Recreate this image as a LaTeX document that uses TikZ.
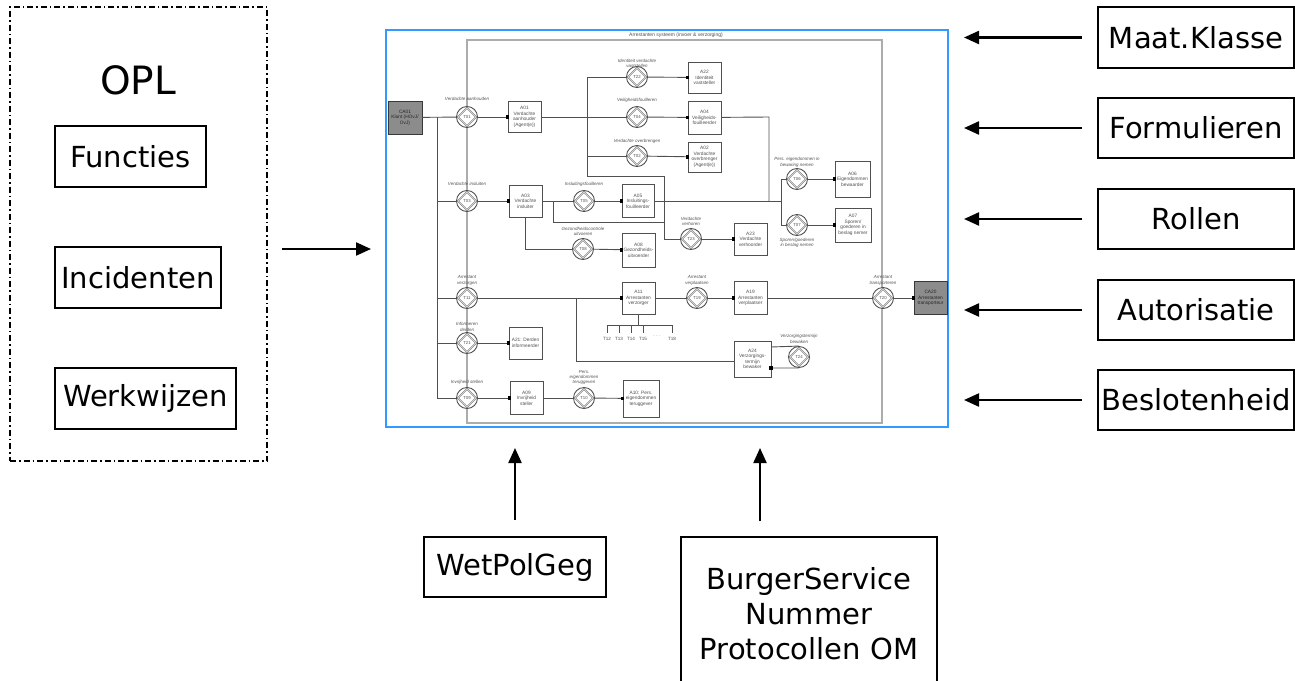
\documentclass[tikz,border=0pt]{standalone}
\usepackage{fontspec}
\setmainfont{DejaVu Sans}
\newfontfamily\scrfont{Liberation Sans}
\usetikzlibrary{arrows.meta,calc}
\definecolor{scrblue}{RGB}{51,153,255}
\definecolor{lnc}{RGB}{80,80,80}
\definecolor{frm}{RGB}{172,172,172}
\definecolor{actfill}{RGB}{140,140,140}
\tikzset{
  sz/.style 2 args={minimum width=#1pt, minimum height=#2pt},
  obox/.style={draw=black, line width=1.7pt, font=\fontsize{29}{35}\selectfont, inner sep=0pt, align=center},
  oarrow/.style={line width=2.2pt, -{Triangle[length=15pt,width=13pt]}},
  scrtxt/.style={font=\scrfont\fontsize{4.8}{5.5}\selectfont, text=lnc},
  lbl/.style={font=\scrfont\itshape\fontsize{4.5}{5.4}\selectfont, text=lnc, align=center, inner sep=0pt},
  actor/.style={draw=lnc, line width=0.8pt, fill=white, inner sep=0pt, align=center, scrtxt},
  ca/.style={actor, fill=actfill, draw=lnc!70!black, text=black!85},
  tr/.style={circle, draw=lnc, line width=0.9pt, fill=white, minimum size=21pt, inner sep=0pt,
    font=\scrfont\fontsize{4.3}{4.8}\selectfont, text=lnc,
    path picture={\draw[lnc, line width=0.45pt, double=white, double distance=0.5pt]
      ([yshift=-1.3pt]path picture bounding box.north) -- ([xshift=-1.3pt]path picture bounding box.east)
      -- ([yshift=1.3pt]path picture bounding box.south) -- ([xshift=1.3pt]path picture bounding box.west) -- cycle;}},
  conn/.style={draw=lnc, line width=0.9pt},
  dot/.style={fill=black, minimum size=3.5pt, inner sep=0pt},
  tick/.style={font=\scrfont\fontsize{4.6}{5}\selectfont, text=lnc, inner sep=0pt},
}
\begin{document}
\begin{tikzpicture}[x=1pt,y=-1pt]
\useasboundingbox (0,0) rectangle (1295,680);
\clip (0,0) rectangle (1295,680);
\fill[white] (0,0) rectangle (1295,680);

% ---------- left OPL group ----------
\node[draw=black, line width=1.5pt, dash pattern=on 6pt off 3pt on 1.5pt off 3pt, sz={257}{454}, inner sep=0pt] (oplbox) at (138.5,234) {};
\node[font=\fontsize{39}{45}\selectfont, inner sep=0pt] (opl) at (138,80) {OPL};
\node[obox, sz={151}{61}] (fun) at (130.5,156.5) {Functies};
\node[obox, sz={166}{61}] (inc) at (138,277.5) {Incidenten};
\node[obox, sz={181}{61}] (wkw) at (145.5,398.5) {Werkwijzen};

% ---------- central screenshot ----------
\node[draw=scrblue, line width=2pt, fill=white, sz={562}{397}, inner sep=0pt] (screen) at (667,228.5) {};
\node[draw=frm, line width=2pt, sz={415}{383}, inner sep=0pt] (frame) at (674.5,231.5) {};
\node[font=\scrfont\fontsize{5}{6}\selectfont, text=lnc, inner sep=0pt] (title) at (676,35.5) {Arrestanten systeem (invoer \& verzorging)};

% coordinates for junctions
\coordinate (bT) at (437,117);
\coordinate (bB) at (437,398);
\coordinate (b3) at (437,201);
\coordinate (b11) at (437,298);
\coordinate (b21) at (437,343);
\coordinate (j1) at (587,117);
\coordinate (j1t) at (587,77);
\coordinate (j1m) at (587,156);
\coordinate (j1b) at (587,176);
\coordinate (j2) at (664,176);
\coordinate (j2b) at (664,239);
\coordinate (j3) at (553,201);
\coordinate (j3b) at (553,222);
\coordinate (j3e) at (664,222);
\coordinate (j4) at (769,117);
\coordinate (j4b) at (769,201);
\coordinate (j5) at (781,201);
\coordinate (j5t) at (781,179);
\coordinate (j5b) at (781,225);
\coordinate (j6) at (525.5,249);
\coordinate (j7) at (576,298);
\coordinate (j7b) at (576,361);
\coordinate (c1) at (771,347);
\coordinate (c2) at (771,368);
\coordinate (k0) at (638.5,325);
\coordinate (kL) at (607,325);
\coordinate (kR) at (672,325);

% actors
\node[ca, sz={34}{33}] (CA01) at (405,117.5) {CA01\\Klant (HOvJ/\\OvJ)};
\node[actor, sz={33}{31}] (A01) at (524.5,117) {A01\\Verdachte\\aanhouder\\(Agent(e))};
\node[actor, sz={33}{31}] (A22) at (704.5,77.5) {A22\\Identiteit\\vaststeller};
\node[actor, sz={33}{33}] (A04) at (704.5,117.5) {A04\\Veiligheids-\\fouilleerder};
\node[actor, sz={33}{30}] (A02) at (704.5,157) {A02\\Verdachte\\overbrenger\\(Agent(e))};
\node[actor, sz={35}{36}] (A06) at (852.5,179) {A06\\Eigendommen\\bewaarder};
\node[actor, sz={36}{34}] (A07) at (853,225) {A07\\Sporen/\\goederen in\\beslag nemer};
\node[actor, sz={33}{32}] (A03) at (525.5,201) {A03\\Verdachte\\insluiter};
\node[actor, sz={32}{33}] (A05) at (638,201) {A05\\Insluitings-\\fouilleerder};
\node[actor, sz={33}{34}] (A08) at (638.5,250) {A08\\Gezondheids-\\uitvoerder};
\node[actor, sz={33}{32}] (A23) at (750.5,239) {A23\\Verdachte\\verhoorder};
\node[actor, sz={33}{32}] (A11) at (638.5,298) {A11\\Arrestanten\\verzorger};
\node[actor, sz={33}{33}] (A19) at (750.5,298) {A19\\Arrestanten\\verplaatser};
\node[ca, sz={33}{33}] (CA20) at (930.5,298) {CA20\\Arrestanten\\transporteur};
\node[actor, sz={37}{36}] (A24) at (752.5,359) {A24\\Verzorgings-\\termijn\\bewaker};
\node[actor, sz={33}{32}] (A21) at (525.5,343) {A21: Derden\\informeerder};
\node[actor, sz={33}{33}] (A09) at (526.5,398) {A09\\Invrijheid\\steller};
\node[actor, sz={36}{37}] (A10) at (641,398.5) {A10: Pers.\\eigendommen\\teruggever};

% transactions
\node[tr] (T01) at (467,117) {T01};
\node[tr] (T22) at (637,77) {T22};
\node[tr] (T04) at (637,117) {T04};
\node[tr] (T02) at (637,156) {T02};
\node[tr] (T06) at (797,179) {T06};
\node[tr] (T07) at (797,225) {T07};
\node[tr] (T03) at (467,201) {T03};
\node[tr] (T05) at (584,201) {T05};
\node[tr] (T23) at (691,239) {T23};
\node[tr] (T08) at (583,249) {T08};
\node[tr] (T11) at (467,298) {T11};
\node[tr] (T19) at (697,298) {T19};
\node[tr] (T20) at (883,298) {T20};
\node[tr] (T24) at (799,357) {T24};
\node[tr] (T21) at (467,343) {T21};
\node[tr] (T09) at (467,398) {T09};
\node[tr] (T10) at (584,398) {T10};

% connectors
\draw[conn] (CA01) -- (T01);
\draw[conn] (T01) -- (A01);
\draw[conn] (bT) -- (bB);
\draw[conn] (b3) -- (T03);
\draw[conn] (b11) -- (T11);
\draw[conn] (b21) -- (T21);
\draw[conn] (bB) -- (T09);
\draw[conn] (T03) -- (A03);
\draw[conn] (T11) -- (A11);
\draw[conn] (T21) -- (A21);
\draw[conn] (T09) -- (A09);
\draw[conn] (A01) -- (j1);
\draw[conn] (j1t) -- (j1b) -- (j2) -- (j2b) -- (T23);
\draw[conn] (j1t) -- (T22);
\draw[conn] (j1) -- (T04);
\draw[conn] (j1m) -- (T02);
\draw[conn] (T22) -- (A22);
\draw[conn] (T04) -- (A04);
\draw[conn] (T02) -- (A02);
\draw[conn] (T23) -- (A23);
\draw[conn] (A03) -- (T05);
\draw[conn] (T05) -- (A05);
\draw[conn] (A05) -- (j5);
\draw[conn] (j3) -- (j3b) -- (j3e);
\draw[conn] (A04) -- (j4) -- (j4b);
\draw[conn] (j5t) -- (j5b);
\draw[conn] (j5t) -- (T06);
\draw[conn] (j5b) -- (T07);
\draw[conn] (T06) -- (A06);
\draw[conn] (T07) -- (A07);
\draw[conn] (A03.south) -- (j6) -- (T08);
\draw[conn] (T08) -- (A08);
\draw[conn] (A11) -- (T19);
\draw[conn] (T19) -- (A19);
\draw[conn] (A19) -- (T20);
\draw[conn] (T20) -- (CA20);
\draw[conn] (j7) -- (j7b) -- (A24.west |- j7b);
\draw[conn] (c1) -- (T24.north);
\draw[conn] (c2) -- (T24.south);
\draw[conn] (A09) -- (T10);
\draw[conn] (T10) -- (A10);
\draw[conn] (A11.south) -- (k0);
\draw[conn] (kL) -- (kR);
\foreach \x in {607,619,631,643,672} \draw[conn] (\x,325) -- (\x,333);
\node[tick] (t12) at (607,338.5) {T12};
\node[tick] (t13) at (619,338.5) {T13};
\node[tick] (t14) at (631,338.5) {T14};
\node[tick] (t15) at (643,338.5) {T15};
\node[tick] (tdots) at (657,336) {. . .};
\node[tick] (t18) at (672,338.5) {T18};

% black dots (initiator ends)
\node[dot] (d01) at (A01.west) {};
\node[dot] (d22) at (A22.west) {};
\node[dot] (d04) at (A04.west) {};
\node[dot] (d02) at (A02.west) {};
\node[dot] (d06) at (A06.west) {};
\node[dot] (d07) at (A07.west) {};
\node[dot] (d03) at (A03.west) {};
\node[dot] (d05) at (A05.west) {};
\node[dot] (d08) at (A08.west) {};
\node[dot] (d23) at (A23.west) {};
\node[dot] (d11) at (A11.west) {};
\node[dot] (d19) at (A19.west) {};
\node[dot] (d20) at (CA20.west) {};
\node[dot] (d21) at (A21.west) {};
\node[dot] (d09) at (A09.west) {};
\node[dot] (d10) at (A10.west) {};
\node[dot] (d24) at (c2) {};

% transaction labels
\node[lbl] (L01) at (467,99) {Verdachte aanhouden};
\node[lbl] (L22) at (637,63.5) {Identiteit verdachte\\vaststellen};
\node[lbl] (L04) at (637,100) {Veiligheidsfouilleren};
\node[lbl] (L02) at (637,141) {Verdachte overbrengen};
\node[lbl] (L06) at (797,162.5) {Pers. eigendommen in\\bewaring nemen};
\node[lbl] (L07) at (797,243) {Sporen/goederen\\in beslag nemen};
\node[lbl] (L03) at (467,184) {Verdachte insluiten};
\node[lbl] (L05) at (584,184) {Insluitingsfouilleren};
\node[lbl] (L08) at (583,231.5) {Gezondheidscontrole\\uitvoeren};
\node[lbl] (L23) at (691,221.5) {Verdachte\\verhoren};
\node[lbl] (L11) at (467,280.5) {Arrestant\\verzorgen};
\node[lbl] (L19) at (697,280.5) {Arrestant\\verplaatsen};
\node[lbl] (L20) at (883,280.5) {Arrestant\\transporteren};
\node[lbl] (L24) at (799,339) {Verzorgingstermijn\\bewaken};
\node[lbl] (L21) at (467,327) {Informeren\\derden};
\node[lbl] (L09) at (467,382) {Invrijheid stellen};
\node[lbl] (L10) at (584,377.5) {Pers.\\eigendommen\\teruggeven};

% ---------- right group ----------
\node[obox, sz={196}{61}] (mk) at (1196,37.5) {Maat.Klasse};
\node[obox, sz={196}{60}] (frm) at (1196,128) {Formulieren};
\node[obox, sz={196}{60}] (rol) at (1196,219) {Rollen};
\node[obox, sz={196}{60}] (aut) at (1196,310) {Autorisatie};
\node[obox, sz={196}{60}] (bsl) at (1196,400) {Beslotenheid};
\foreach \b in {mk,frm,rol,aut,bsl}
  \draw[oarrow, shorten <=15pt, shorten >=15pt] (\b.west) -- (\b.west -| screen.east);

% ---------- bottom group ----------
\node[obox, sz={182}{60}] (wpg) at (515,567) {WetPolGeg};
\node[obox, sz={256}{153}] (bsn) at (809,613.5) {BurgerService\\Nummer\\Protocollen OM};
\draw[oarrow, shorten <=16pt, shorten >=20pt] (wpg.north) -- (wpg.north |- screen.south);
\coordinate (bsnin) at ([xshift=-49pt]bsn.north);
\draw[oarrow, shorten <=15pt, shorten >=20pt] (bsnin) -- (bsnin |- screen.south);

% ---------- left arrow ----------
\coordinate (oplout) at (267,249);
\draw[oarrow, shorten <=15pt, shorten >=14pt] (oplout) -- (oplout -| screen.west);
\end{tikzpicture}
\end{document}
